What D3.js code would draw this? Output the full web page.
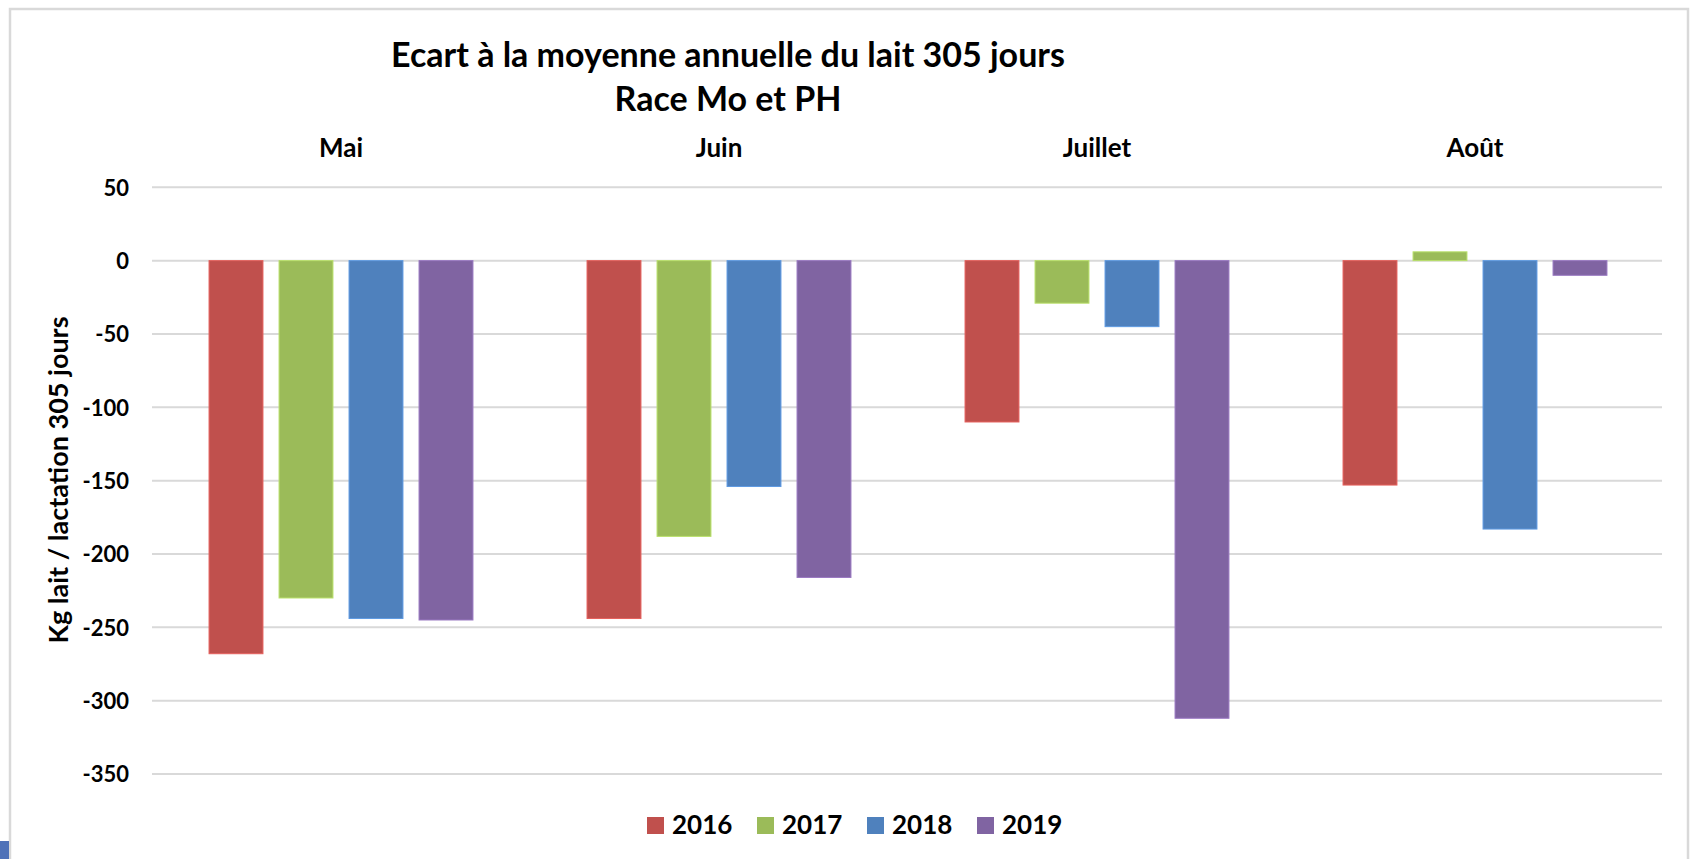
<!DOCTYPE html>
<html>
<head>
<meta charset="utf-8">
<script src="https://cdn.jsdelivr.net/npm/d3@7"></script>
<style>
  html, body { margin: 0; padding: 0; background: #fff; }
  svg text { font-family: Lato, "Open Sans", sans-serif; font-weight: bold; fill: #000; }
</style>
</head>
<body>
<div id="chart"></div>
<script>
// data
var months = ["Mai", "Juin", "Juillet", "Août"];
var years = ["2016", "2017", "2018", "2019"];
var v2016 = [-268, -244, -110, -153];
var v2017 = [-230, -188, -29, 6];
var v2018 = [-244, -154, -45, -183];
var v2019 = [-245, -216, -312, -10];
var yTicks = [50, 0, -50, -100, -150, -200, -250, -300, -350];
var colors = ["#C0504D", "#9BBB59", "#4F81BD", "#8064A2"];

var width = 1691, height = 859;
var series = [v2016, v2017, v2018, v2019];

var svg = d3.select("#chart").append("svg")
  .attr("width", width).attr("height", height);

// frame
svg.append("path")
  .attr("d", "M10,860 L10,9 L1688,9 L1688,860")
  .attr("fill", "none").attr("stroke", "#d9d9d9").attr("stroke-width", 2.5);

var x0 = d3.scaleBand().domain(months).range([152, 1664]);
// bars 54 wide with 16 gap, group centred in its band
var x1 = d3.scaleBand().domain(years).range([0, x0.bandwidth()])
  .paddingInner(0.23).paddingOuter(0.815);
var y = d3.scaleLinear().domain([-350, 50]).range([774, 187.3]);

// grid
svg.append("g").selectAll("line")
  .data(yTicks).enter().append("line")
  .attr("x1", 152).attr("x2", 1662)
  .attr("y1", function (d) { return y(d); })
  .attr("y2", function (d) { return y(d); })
  .attr("stroke", "#d9d9d9").attr("stroke-width", 2);

// y axis labels (plain hyphen like the original)
var yAxis = d3.axisLeft(y).tickValues(yTicks).tickSize(0).tickPadding(0)
  .tickFormat(function (d) { return String(d); });
var gy = svg.append("g").attr("transform", "translate(129,0)").call(yAxis);
gy.select(".domain").remove();
gy.selectAll("text").attr("font-size", 22).attr("dy", "0.36em")
  .style("font-family", "Lato, sans-serif").style("font-weight", "bold").attr("fill", "#000");

// bars
var rows = [];
months.forEach(function (m, i) {
  years.forEach(function (yr, j) {
    rows.push({ month: m, year: yr, value: series[j][i], color: colors[j] });
  });
});

svg.append("g").selectAll("rect")
  .data(rows).enter().append("rect")
  .attr("x", function (d) { return x0(d.month) + x1(d.year); })
  .attr("width", x1.bandwidth())
  .attr("y", function (d) { return y(Math.max(0, d.value)); })
  .attr("height", function (d) { return Math.abs(y(d.value) - y(0)); })
  .attr("fill", function (d) { return d.color; })
  .attr("stroke", function (d) { return d3.color(d.color).brighter(0.5); })
  .attr("stroke-width", 1);

// month labels on top
svg.append("g").selectAll("text")
  .data(months).enter().append("text")
  .attr("x", function (d) { return x0(d) + x0.bandwidth() / 2; })
  .attr("y", 157)
  .attr("text-anchor", "middle")
  .attr("font-size", 26)
  .text(function (d) { return d; });

// title
svg.append("text").attr("x", 728).attr("y", 67).attr("text-anchor", "middle")
  .attr("font-size", 34).text("Ecart à la moyenne annuelle du lait 305 jours");
svg.append("text").attr("x", 728).attr("y", 111).attr("text-anchor", "middle")
  .attr("font-size", 34).text("Race Mo et PH");

// y axis title
svg.append("text")
  .attr("transform", "translate(68,480) rotate(-90)")
  .attr("text-anchor", "middle")
  .attr("font-size", 27)
  .text("Kg lait / lactation 305 jours");

// legend
var leg = svg.append("g").selectAll("g")
  .data(years).enter().append("g")
  .attr("transform", function (d, i) { return "translate(" + (647 + i * 110) + ",817)"; });
leg.append("rect").attr("width", 17).attr("height", 17)
  .attr("fill", function (d, i) { return colors[i]; });
leg.append("text").attr("x", 25).attr("y", 17).attr("font-size", 26)
  .text(function (d) { return d; });

// little blue mark at bottom left
svg.append("rect").attr("x", 0).attr("y", 841).attr("width", 9).attr("height", 18).attr("fill", "#4f72b8");
</script>
</body>
</html>
